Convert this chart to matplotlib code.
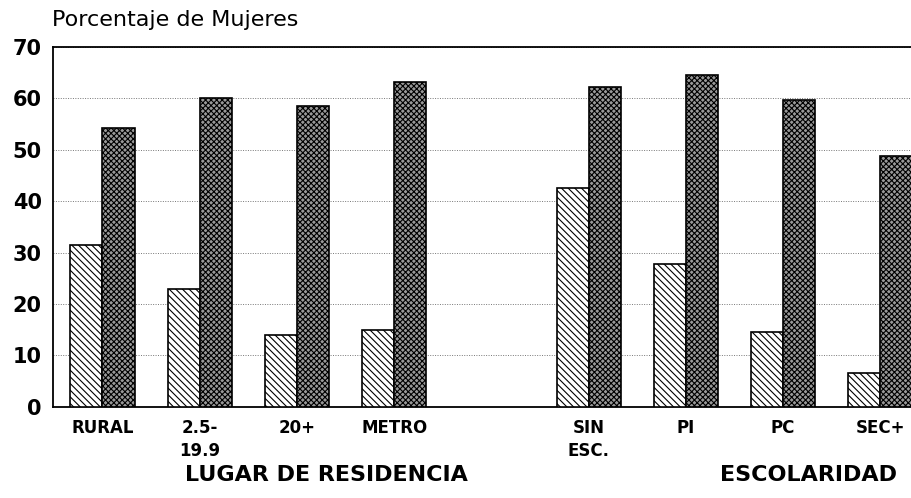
import matplotlib.pyplot as plt
import numpy as np

plt.rcParams['font.family'] = ['DejaVu Sans']

categorias = ["RURAL", "2.5-\n19.9", "20+", "METRO", "SIN\nESC.", "PI", "PC", "SEC+"]
posiciones = [0, 1, 2, 3, 5, 6, 7, 8]
serie_rayada = [31.5, 23.0, 14.0, 15.0, 42.6, 27.8, 14.5, 6.6]
serie_cuadros = [54.3, 60.0, 58.4, 63.1, 62.2, 64.5, 59.6, 48.7]
grupos = ["LUGAR DE RESIDENCIA", "ESCOLARIDAD"]

fig = plt.figure(figsize=(9.12, 4.98), dpi=100)
ax = fig.add_axes([0.058, 0.183, 0.95, 0.723])

x = np.array(posiciones)
w = 0.33
plt.rcParams['hatch.linewidth'] = 0.8
ax.bar(x - w / 2, serie_rayada, w, facecolor="white", edgecolor="black",
       hatch="\\\\\\\\\\", linewidth=1.2, zorder=3)
ax.bar(x + w / 2, serie_cuadros, w, facecolor="#999999", edgecolor="black",
       hatch="xxxxxx", linewidth=1.2, zorder=3)

ax.set_xlim(-0.51, 8.4)
ax.set_ylim(0, 70)
ax.set_yticks(range(0, 71, 10))
ax.tick_params(axis="y", length=0, labelsize=15, pad=8)
ax.tick_params(axis="x", length=0, labelsize=12, pad=9)
for lab in ax.get_yticklabels():
    lab.set_fontweight("bold")
ax.set_xticks(x)
ax.set_xticklabels(categorias, fontweight="bold", linespacing=1.3)
ax.yaxis.grid(True, linestyle=(0, (1, 1.5)), color="#777777", linewidth=0.7, zorder=0)
ax.spines["right"].set_visible(False)
for s in ["left", "top", "bottom"]:
    ax.spines[s].set_linewidth(1.3)

fig.text(0.057, 0.96, "Porcentaje de Mujeres", fontsize=16, ha="left", va="center")
ax.text(2.3, -0.19, grupos[0], transform=ax.get_xaxis_transform(), fontsize=16,
        fontweight="bold", ha="center", va="center")
ax.text(7.26, -0.19, grupos[1], transform=ax.get_xaxis_transform(), fontsize=16,
        fontweight="bold", ha="center", va="center")

fig.savefig("out.png", dpi=100)
